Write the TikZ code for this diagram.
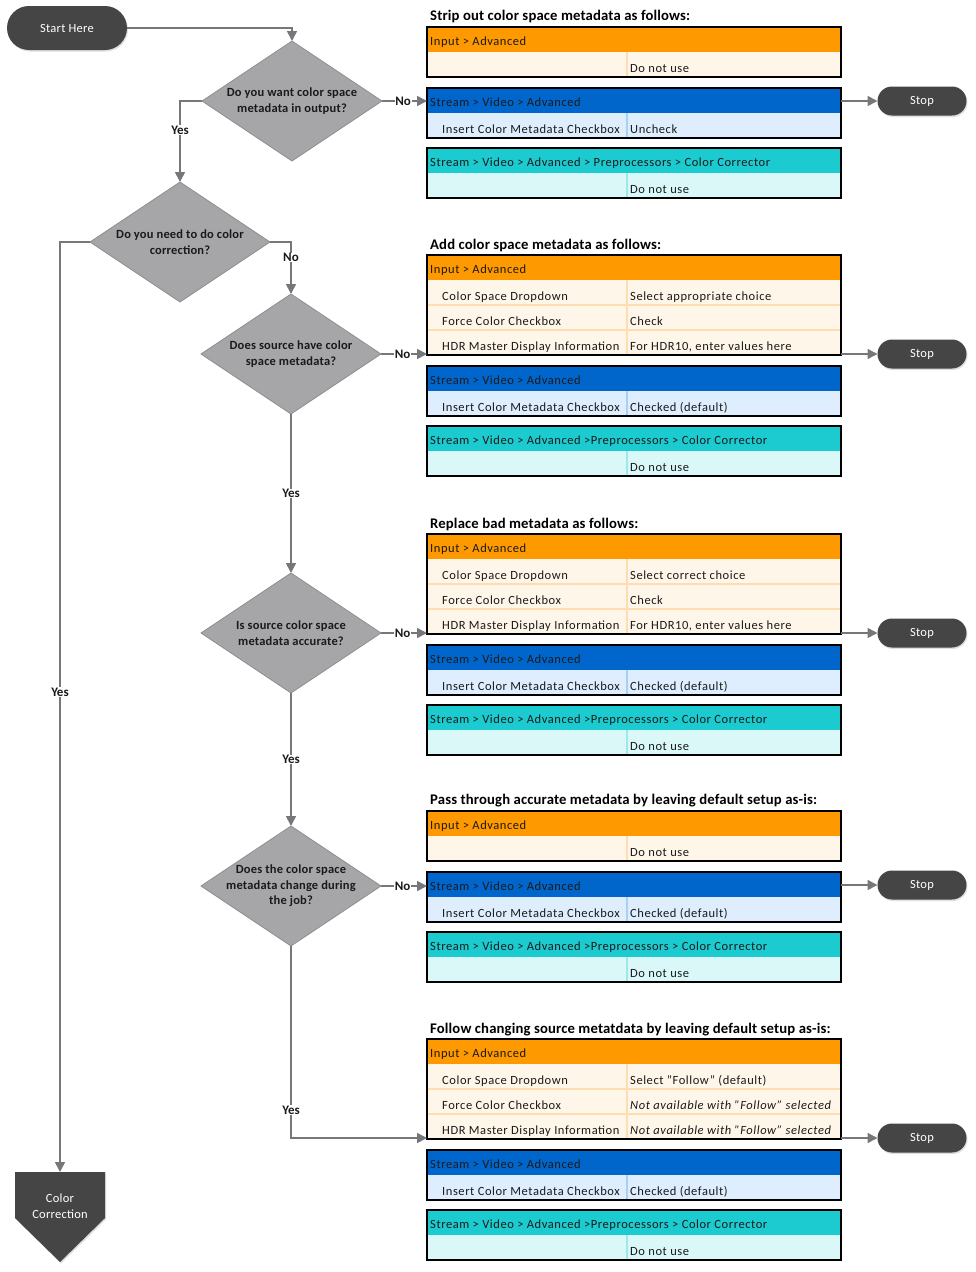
\documentclass[tikz,border=0pt]{standalone}
\usepackage{fontspec}
\setmainfont{Carlito}
\usetikzlibrary{shapes.geometric,shapes.misc,arrows.meta,calc,shadows}
\definecolor{pill}{HTML}{454545}
\definecolor{dia}{HTML}{A6A6A8}
\definecolor{diaedge}{HTML}{8E8E90}
\definecolor{conn}{HTML}{77777B}
\definecolor{ohdr}{HTML}{FF9900}
\definecolor{obody}{HTML}{FFF6EA}
\definecolor{odiv}{HTML}{FFDDB0}
\definecolor{bhdr}{HTML}{0066CC}
\definecolor{bbody}{HTML}{DEEEFF}
\definecolor{bdiv}{HTML}{A8CFF5}
\definecolor{thdr}{HTML}{1BCBCF}
\definecolor{tbody}{HTML}{DAF8F8}
\definecolor{tdiv}{HTML}{9EE8EA}
\definecolor{txt}{HTML}{1A1A1A}
\tikzset{
  arr/.style={draw=conn,line width=1.6pt,-{Triangle[length=10pt,width=10pt]}},
  pillbox/.style={rounded rectangle,fill=pill,text=white,inner sep=0pt,outer sep=0pt,
     font=\fontsize{12.5}{14}\selectfont\addfontfeatures{LetterSpace=2},
     drop shadow={shadow xshift=1pt,shadow yshift=-1.5pt,opacity=0.25}},
  dbox/.style={diamond,fill=dia,draw=diaedge,line width=0.8pt,minimum width=180pt,minimum height=120pt,inner sep=0pt,outer sep=0pt},
  dtext/.style={align=center,text=txt,font=\bfseries\fontsize{12.5}{15.5}\selectfont\addfontfeatures{LetterSpace=1.5}},
  lab/.style={fill=white,inner sep=0.6pt,text=txt,font=\bfseries\fontsize{13}{14}\selectfont},
  tbox/.style={draw=black,line width=1.8pt,minimum width=414pt,inner sep=0pt,outer sep=0pt,anchor=north west},
  htext/.style={anchor=base west,inner sep=0pt,text=txt,font=\fontsize{12.5}{14}\selectfont\addfontfeatures{LetterSpace=4.5}},
  ctext/.style={anchor=base west,inner sep=0pt,text=txt,font=\fontsize{12.5}{14}\selectfont\addfontfeatures{LetterSpace=4.5}},
  ttext/.style={anchor=west,inner sep=0pt,text=black,font=\bfseries\fontsize{14.7}{16}\selectfont\addfontfeatures{LetterSpace=1}},
}
\newcommand\tbl[7]{%
  \fill[#5] (427,#2) rectangle (841,{#2+25+25*#3});
  \fill[#4] (427,#2) rectangle (841,{#2+25});
  \draw[#6,line width=1.5pt] (627,{#2+25}) -- (627,{#2+25+25*#3});
  \ifnum#3>1
    \draw[#6,line width=2pt] (427,{#2+50}) -- (841,{#2+50});
    \draw[#6,line width=2pt] (427,{#2+75}) -- (841,{#2+75});
  \fi
  \node[tbox,minimum height={25+25*#3}] (#1) at (427,#2) {};
  \node[htext] (#1-h) at (430,{#2+18.5}) {#7};
}
\newcommand\rowtxt[4]{%
  \node[ctext] (#1-l) at (442,{#2+20}) {#3};
  \node[ctext] (#1-r) at (630,{#2+20}) {#4};
}
\begin{document}
\begin{tikzpicture}[x=1pt,y=-1pt]
\useasboundingbox[fill=white] (0,0) rectangle (975,1272);

% ---- flow nodes
\node[pillbox,minimum width=120pt,minimum height=44pt] (start) at (67,28) {Start Here};
\node[dbox,label={[dtext]center:Do you want color space\\metadata in output?}] (d1) at (292,101) {};
\node[dbox,label={[dtext]center:Do you need to do color\\correction?}] (d2) at (180,242) {};
\node[dbox,label={[dtext]center:Does source have color\\space metadata?}] (d3) at (291,354) {};
\node[dbox,label={[dtext]center:Is source color space\\metadata accurate?}] (d4) at (291,633) {};
\node[dbox,label={[dtext]center:Does the color space\\metadata change during\\the job?}] (d5) at (291,886) {};

% color correction off-page shape
\coordinate (cctop) at (60,1172);
\fill[pill,drop shadow={shadow xshift=1pt,shadow yshift=-1.5pt,opacity=0.25}] (15,1172) -- (105,1172) -- (105,1218) -- (60,1262) -- (15,1218) -- cycle;
\node[align=center,text=white,font=\fontsize{12.5}{16}\selectfont\addfontfeatures{LetterSpace=2}] (cc) at (60,1206) {Color\\Correction};

% ---- tables
\node[ttext] (h1) at (430,16.5) {Strip out color space metadata as follows:};
\tbl{o1}{27}{1}{ohdr}{obody}{odiv}{Input > Advanced}
\rowtxt{o1r1}{52}{}{Do not use}
\tbl{b1}{88}{1}{bhdr}{bbody}{bdiv}{Stream > Video > Advanced}
\rowtxt{b1r1}{113}{Insert Color Metadata Checkbox}{Uncheck}
\tbl{t1}{148}{1}{thdr}{tbody}{tdiv}{Stream > Video > Advanced > Preprocessors > Color Corrector}
\rowtxt{t1r1}{173}{}{Do not use}

\node[ttext] (h2) at (430,245.5) {Add color space metadata as follows:};
\tbl{o2}{255}{3}{ohdr}{obody}{odiv}{Input > Advanced}
\rowtxt{o2r1}{280}{Color Space Dropdown}{Select appropriate choice}
\rowtxt{o2r2}{305}{Force Color Checkbox}{Check}
\rowtxt{o2r3}{330}{HDR Master Display Information}{For HDR10, enter values here}
\tbl{b2}{366}{1}{bhdr}{bbody}{bdiv}{Stream > Video > Advanced}
\rowtxt{b2r1}{391}{Insert Color Metadata Checkbox}{Checked (default)}
\tbl{t2}{426}{1}{thdr}{tbody}{tdiv}{Stream > Video > Advanced >Preprocessors > Color Corrector}
\rowtxt{t2r1}{451}{}{Do not use}

\node[ttext] (h3) at (430,524.5) {Replace bad metadata as follows:};
\tbl{o3}{534}{3}{ohdr}{obody}{odiv}{Input > Advanced}
\rowtxt{o3r1}{559}{Color Space Dropdown}{Select correct choice}
\rowtxt{o3r2}{584}{Force Color Checkbox}{Check}
\rowtxt{o3r3}{609}{HDR Master Display Information}{For HDR10, enter values here}
\tbl{b3}{645}{1}{bhdr}{bbody}{bdiv}{Stream > Video > Advanced}
\rowtxt{b3r1}{670}{Insert Color Metadata Checkbox}{Checked (default)}
\tbl{t3}{705}{1}{thdr}{tbody}{tdiv}{Stream > Video > Advanced >Preprocessors > Color Corrector}
\rowtxt{t3r1}{730}{}{Do not use}

\node[ttext] (h4) at (430,800.5) {Pass through accurate metadata by leaving default setup as-is:};
\tbl{o4}{811}{1}{ohdr}{obody}{odiv}{Input > Advanced}
\rowtxt{o4r1}{836}{}{Do not use}
\tbl{b4}{872}{1}{bhdr}{bbody}{bdiv}{Stream > Video > Advanced}
\rowtxt{b4r1}{897}{Insert Color Metadata Checkbox}{Checked (default)}
\tbl{t4}{932}{1}{thdr}{tbody}{tdiv}{Stream > Video > Advanced >Preprocessors > Color Corrector}
\rowtxt{t4r1}{957}{}{Do not use}

\node[ttext] (h5) at (430,1029.5) {Follow changing source metatdata by leaving default setup as-is:};
\tbl{o5}{1039}{3}{ohdr}{obody}{odiv}{Input > Advanced}
\rowtxt{o5r1}{1064}{Color Space Dropdown}{Select \char34 Follow\char34\ (default)}
\rowtxt{o5r2}{1089}{Force Color Checkbox}{\itshape Not available with \char34 Follow\char34\ selected}
\rowtxt{o5r3}{1114}{HDR Master Display Information}{\itshape Not available with \char34 Follow\char34\ selected}
\tbl{b5}{1150}{1}{bhdr}{bbody}{bdiv}{Stream > Video > Advanced}
\rowtxt{b5r1}{1175}{Insert Color Metadata Checkbox}{Checked (default)}
\tbl{t5}{1210}{1}{thdr}{tbody}{tdiv}{Stream > Video > Advanced >Preprocessors > Color Corrector}
\rowtxt{t5r1}{1235}{}{Do not use}

% ---- stops
\node[pillbox,minimum width=89pt,minimum height=29pt] (s1) at (922,101) {Stop};
\node[pillbox,minimum width=89pt,minimum height=29pt] (s2) at (922,354) {Stop};
\node[pillbox,minimum width=89pt,minimum height=29pt] (s3) at (922,633) {Stop};
\node[pillbox,minimum width=89pt,minimum height=29pt] (s4) at (922,885) {Stop};
\node[pillbox,minimum width=89pt,minimum height=29pt] (s5) at (922,1138) {Stop};

% ---- connectors
\draw[arr] (start.east) -| (d1.north);
\draw[arr] (d1.west) -| node[lab,pos=0.68] (l1) {Yes} (d2.north);
\draw[arr] (d1.east) -- node[lab,pos=0.47] (l2) {No} (d1.east -| b1.west);
\draw[arr] (d2.east) -| node[lab,pos=0.65] (l3) {No} (d3.north);
\draw[arr] (d2.west) -| node[lab,pos=0.742] (l4) {Yes} (cctop);
\draw[arr] (d3.east) -- node[lab,pos=0.47] (l5) {No} (d3.east -| o2.west);
\draw[arr] (d3.south) -- node[lab] (l6) {Yes} (d4.north);
\draw[arr] (d4.east) -- node[lab,pos=0.47] (l7) {No} (d4.east -| o3.west);
\draw[arr] (d4.south) -- node[lab] (l8) {Yes} (d5.north);
\draw[arr] (d5.east) -- node[lab,pos=0.47] (l9) {No} (d5.east -| b4.west);
\draw[arr] (d5.south) |- node[lab,pos=0.427] (l10) {Yes} ([yshift=1pt]o5.south west);

\draw[arr] (s1.west -| b1.east) -- (s1.west);
\draw[arr] (s2.west -| o2.east) -- (s2.west);
\draw[arr] (s3.west -| o3.east) -- (s3.west);
\draw[arr] (s4.west -| b4.east) -- (s4.west);
\draw[arr] (s5.west -| o5.east) -- (s5.west);
\end{tikzpicture}
\end{document}
